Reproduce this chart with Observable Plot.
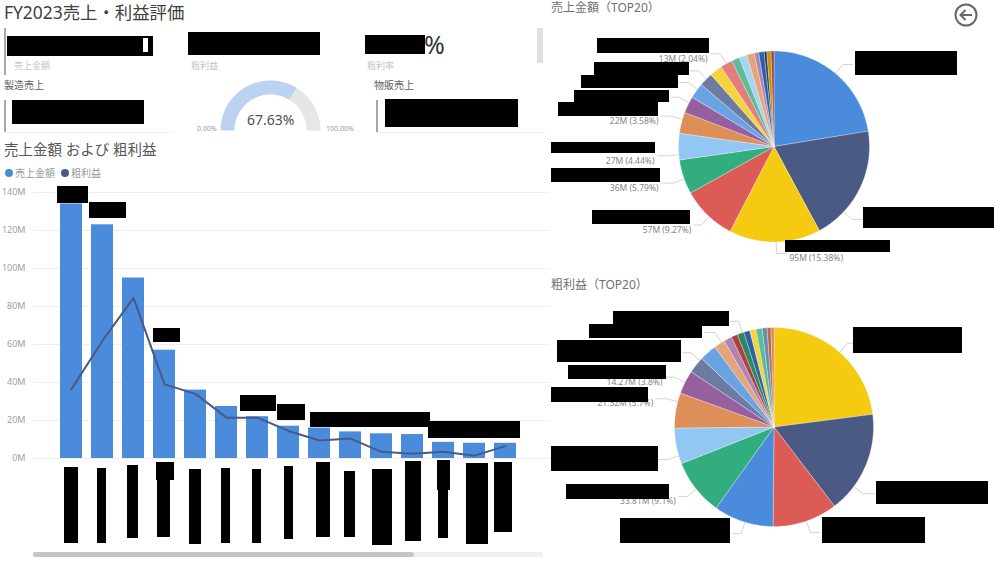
<!DOCTYPE html>
<html><head><meta charset="utf-8">
<script src="https://cdn.jsdelivr.net/npm/d3@7"></script>
<script src="https://cdn.jsdelivr.net/npm/@observablehq/plot@0.6"></script>
<style>
html,body{margin:0;padding:0;background:#fff;overflow:hidden}
#page{position:relative;width:1000px;height:570px;font-family:"Noto Sans","Noto Sans CJK JP",sans-serif;overflow:hidden}
#page>*{position:absolute}
.t{white-space:nowrap;line-height:1}
.k{background:#000;z-index:5}
svg text{font-family:"Noto Sans","Noto Sans CJK JP",sans-serif}
</style></head><body><div id="page"></div>
<script>
// ---- data ----
const categories = ["01","02","03","04","05","06","07","08","09","10","11","12","13","14","15"];
const salesM  = [134,123,95,57,36,27.4,22,17,16,14,13,12.6,8.5,8,8];
const profitM = [36.5,62,84.5,39,34,21.5,21.5,14.5,9.5,10.5,3.5,2.5,3.5,1.5,6.5];
const yTicks  = [0,20,40,60,80,100,120,140];
const salesPiePct  = [22.3,19.6,15.38,9.27,5.79,4.44,3.58,2.8,2.6,2.3,2.1,2.04,1.35,1.3,1.3,0.75,0.9,0.45,0.7,0.5];
const profitPiePct = [22.9,16.6,10.5,9.7,9.1,5.8,5.7,3.8,2.7,2.8,1.8,1.3,1.0,1.1,1.0,1.0,1.0,0.8,0.6,0.5];
const gaugeValues  = [67.63,32.37];
const salesColors  = ["#4A8BDC","#4A5A85","#F4CB10","#DD5B57","#32AE7E","#93C7F3","#DE8E57","#965FA0","#6AA3E4","#6E7BA0","#F5D33F","#E47E7A","#5CBE99","#A9D2F5","#E5A57A","#AE83B5","#2A62A8","#2B3552","#B8980C","#B0403D"];
const profitColors = ["#F4CB10","#4A5A85","#DD5B57","#4A8BDC","#32AE7E","#93C7F3","#DE8E57","#965FA0","#6E7BA0","#6AA3E4","#E5A57A","#AE83B5","#B0403D","#2A8A64","#2A62A8","#F5D33F","#5CBE99","#6E8BB0","#A8703D","#E47E7A"];
const salesLabels  = {2:"95M (15.38%)",3:"57M (9.27%)",4:"36M (5.79%)",5:"27M (4.44%)",6:"22M (3.58%)",11:"13M (2.04%)"};
const profitLabels = {4:"33.81M (9.1%)",6:"21.32M (5.7%)",7:"14.27M (3.8%)"};
// leader lines: slice index, attachment angle (degrees clockwise from top), horizontal run
const salesLeaders  = [[0,40,10],[1,133,10],[2,178.7,10],[3,222.8,7],[4,250,12],[5,265,10],[6,286.5,10],[7,297.4,8],[8,306.7,9],[9,315,8],[11,330,10]];
const profitLeaders = [[0,41.3,7],[1,126.8,12],[2,161,9],[3,197,9],[4,231.4,8],[5,253,10],[6,284.7,10],[7,296.6,9],[8,311.8,8],[10,328,10],[13,341.5,8]];

const page = document.getElementById("page");
function place(el,x,y){el.style.left=x+"px";el.style.top=y+"px";page.appendChild(el);return el;}
function txt(s,x,y,size,color,extra){const e=document.createElement("div");e.className="t";e.textContent=s;
  e.style.fontSize=size+"px";e.style.color=color;if(extra)Object.assign(e.style,extra);return place(e,x,y);}
function box(x1,y1,x2,y2,color,cls){const e=document.createElement("div");if(cls)e.className=cls;
  e.style.width=(x2-x1)+"px";e.style.height=(y2-y1)+"px";if(color)e.style.background=color;return place(e,x1,y1);}
const black=(a,b,c,d)=>box(a,b,c,d,null,"k");

// wedge polygons on a unit circle, via d3.pie (angles clockwise from the top)
function wedges(values,colors,opts={}){
  const inner=opts.inner||0,pie=d3.pie().sort(null).startAngle(opts.start||0).endAngle(opts.end??2*Math.PI)(values),pts=[];
  pie.forEach((s,i)=>{
    const n=Math.max(2,Math.ceil((s.endAngle-s.startAngle)/0.02)),a=d3.range(n+1).map(k=>s.startAngle+(s.endAngle-s.startAngle)*k/n);
    if(inner===0) pts.push({i,x:0,y:0,c:colors[i]});
    a.forEach(t=>pts.push({i,x:Math.sin(t),y:Math.cos(t),c:colors[i]}));
    if(inner>0) a.slice().reverse().forEach(t=>pts.push({i,x:inner*Math.sin(t),y:inner*Math.cos(t),c:colors[i]}));
    pts.push({...pts.filter(p=>p.i===i)[0]});
  });
  return {pie,pts};
}
function pieChart(values,colors,labels,leaderDefs,W,H,cx,cy,r){
  const {pts}=wedges(values,colors);
  const el=1.12,leaders=[],texts=[];
  leaderDefs.forEach(([i,deg,run])=>{
    const m=deg*Math.PI/180,sx=Math.sin(m),sy=Math.cos(m),dir=sx>=0?1:-1;
    const ex=el*sx+dir*run/r,ey=el*sy;
    leaders.push({i,x:sx,y:sy},{i,x:el*sx,y:el*sy},{i,x:ex,y:ey});
    if(labels[i]) texts.push({x:ex,y:ey,t:labels[i],dir});
  });
  return Plot.plot({width:W,height:H,margin:0,
    x:{axis:null,domain:[-cx/r,(W-cx)/r],range:[0,W]},
    y:{axis:null,domain:[(cy-H)/r,cy/r],range:[H,0]},
    color:{type:"identity"},
    marks:[
      Plot.line(leaders,{x:"x",y:"y",z:"i",stroke:"#c8c8c8",strokeWidth:0.8}),
      Plot.line(pts,{x:"x",y:"y",z:"i",fill:"c",stroke:"#fff",strokeWidth:0.3}),
      Plot.text(texts.filter(d=>d.dir<0),{x:"x",y:"y",text:"t",textAnchor:"end",dx:-3,dy:5,fontSize:8.5,fill:"#858585"}),
      Plot.text(texts.filter(d=>d.dir>0),{x:"x",y:"y",text:"t",textAnchor:"start",dx:3,dy:5,fontSize:8.5,fill:"#858585"})
    ]});
}

// ---- header and KPI block ----
txt("FY2023売上・利益評価",4,4,17.4,"#404040");
box(4,28,6,75,"#a8a8a8");
black(7,36,153,56); box(143,38,148,52,"#fff").style.zIndex=6;
txt("売上金額",14,61,9,"#c4c4c4");
black(188,32,320,55); txt("粗利益",191,61,9,"#c4c4c4");
black(365,35,425,54); txt("%",424,32,25,"#333"); txt("粗利率",367,61,9,"#c4c4c4");
box(537,28,543,63,"#e0e0e0");
txt("製造売上",4,80,10,"#606060"); box(4,100,6,132,"#a8a8a8"); black(12,100,144,124); box(4,132,173,133,"#f0f0f0");
txt("物販売上",374,80,10,"#606060"); box(376,100,378,132,"#a8a8a8"); black(385,99,518,127); box(376,132,545,133,"#f0f0f0");

// ---- gauge ----
const gx=70,gy=55,gr=50;
const g=wedges(gaugeValues,["#BBD3F0","#E6E6E6"],{inner:0.72,start:-Math.PI/2,end:Math.PI/2});
place(Plot.plot({width:140,height:60,margin:0,
  x:{axis:null,domain:[-gx/gr,(140-gx)/gr],range:[0,140]},
  y:{axis:null,domain:[(gy-60)/gr,gy/gr],range:[60,0]},
  color:{type:"identity"},
  marks:[Plot.line(g.pts,{x:"x",y:"y",z:"i",fill:"c",stroke:"none"})]}),200,75);
txt(gaugeValues[0].toFixed(2)+"%",247,113,14,"#505050");
txt("0.00%",197,125,7,"#999");
txt("100.00%",326,125,7,"#999");

// ---- combo chart ----
txt("売上金額 および 粗利益",4,142,14.5,"#555");
const dot=(x,c)=>{const d=box(x-4,169,x+4,177,c);d.style.borderRadius="50%";};
dot(9,"#4A8BDC"); txt("売上金額",15,168,10,"#9a9a9a");
dot(65,"#4A5A85"); txt("粗利益",71,168,10,"#9a9a9a");
const table=categories.map((c,i)=>({c,s:salesM[i],p:profitM[i]}));
place(Plot.plot({width:550,height:290,marginLeft:33,marginRight:0,marginTop:0,marginBottom:12,
  x:{domain:categories,range:[51,525],padding:0.29,round:false,axis:null},
  y:{domain:[0,140],range:[278,12],axis:null},
  marks:[
    Plot.ruleY(yTicks,{stroke:"#eeeeee",strokeWidth:1}),
    Plot.barY(table,{x:"c",y:"s",fill:"#4A8BDC"}),
    Plot.lineY(table,{x:"c",y:"p",stroke:"#4A5A85",strokeWidth:2}),
    Plot.axisY({ticks:yTicks,tickSize:0,tickPadding:8,tickFormat:d=>d+"M",label:null,anchor:"left",fontSize:9,fill:"#a0a0a0"})
  ]}),0,180);
// redaction blocks over the bar labels and category labels
[[57,186,88,203],[89,202,126,218],[153,328,180,342],[240,395,276,411],[277,404,305,420],[310,412,430,427],[428,421,520,438],
 [64,467,78,543],[97,468,106,543],[127,465,138,538],[157,463,170,537],[156,462,174,480],[189,469,201,544],[221,468,230,543],[252,469,261,543],[284,466,293,539],[316,462,330,537],[344,471,355,537],[372,469,392,545],[405,461,421,541],[437,460,450,490],[438,490,448,538],[466,463,488,544],[494,462,512,532]
].forEach(b=>black(...b));
box(33,552,543,557,"#f0f0f0"); box(33,552,414,557,"#c6c6c6").style.borderRadius="3px";

// ---- pies ----
txt("売上金額（TOP20）",551,2,12,"#707070");
place(pieChart(salesPiePct,salesColors,salesLabels,salesLeaders,450,250,223.5,126,95.5),550,20);
txt("粗利益（TOP20）",551,279,12,"#707070");
place(pieChart(profitPiePct,profitColors,profitLabels,profitLeaders,450,260,223.5,146.5,99.5),550,280);
[[597,38,709,53],[594,62,689,75],[581,75,678,88],[574,90,669,102],[558,102,658,116],[551,142,655,153],[551,168,660,182],[592,210,690,224],[785,240,890,252],[855,51,957,75],[863,207,994,228],
 [613,311,729,326],[589,324,702,338],[557,340,681,362],[568,365,666,379],[551,387,648,402],[551,446,658,471],[566,484,669,499],[620,518,730,543],[822,517,925,543],[876,481,988,504],[853,327,962,353]
].forEach(b=>black(...b));

// back button
const ns="http://www.w3.org/2000/svg",b=document.createElementNS(ns,"svg");
b.setAttribute("width",26);b.setAttribute("height",26);
b.innerHTML='<circle cx="13" cy="13" r="10.5" fill="none" stroke="#666" stroke-width="2"/><path d="M19 13H7.5M12.5 8L7.5 13L12.5 18" fill="none" stroke="#666" stroke-width="2"/>';
place(b,953,2);
</script></body></html>
